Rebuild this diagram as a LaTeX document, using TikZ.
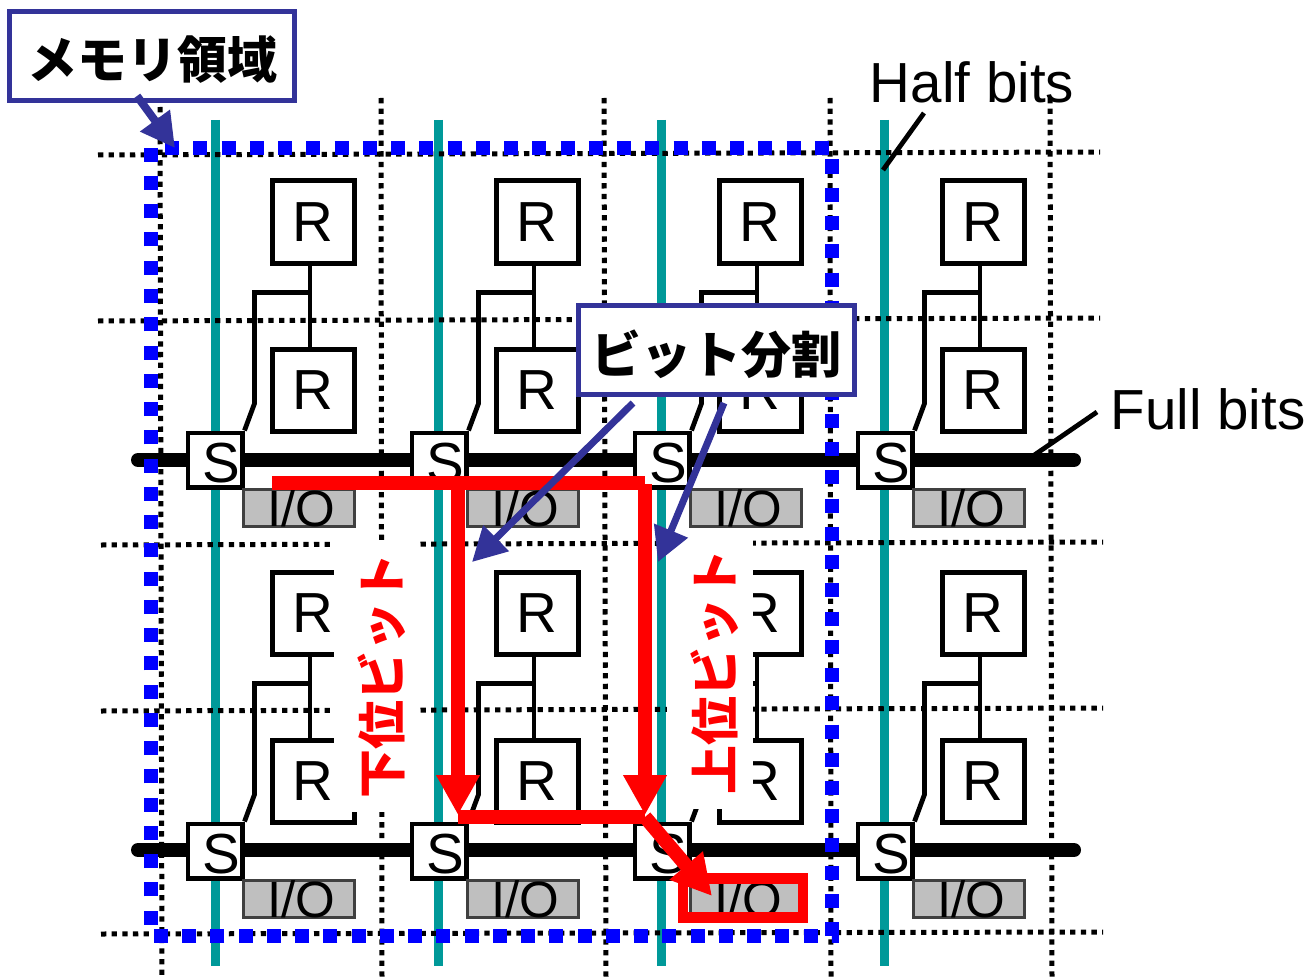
\documentclass[tikz,border=0pt]{standalone}
\usepackage{fontspec}
\setmainfont{Liberation Sans}
\newfontfamily\cjk{Noto Sans CJK JP}
\usetikzlibrary{arrows.meta,positioning}
\definecolor{callblue}{HTML}{333399}
\definecolor{ditch}{HTML}{009999}
\tikzset{
  bigtxt/.style={font=\fontsize{56.5}{56.5}\selectfont, inner sep=0pt},
  rbox/.style={draw, line width=5pt, fill=white, bigtxt, minimum size=82pt},
  swbox/.style={draw, line width=4.5pt, fill=white, bigtxt, minimum size=54.5pt, text height=44pt, text depth=0pt},
  iobox/.style={draw=black!75, line width=3pt, fill=black!25, bigtxt, font=\fontsize{51}{51}\selectfont, minimum width=111pt, minimum height=36pt},
  wire/.style={line width=4.8pt},
  bus/.style={line width=14pt, line cap=round},
  grid/.style={line width=5pt, dash pattern=on 5.3pt off 5.35pt},
  halfbit/.style={ditch, line width=9pt},
  area/.style={blue, line width=14pt, dash pattern=on 14pt off 14.25pt},
  call/.style={draw=callblue, line width=5pt, fill=white, font=\cjk\bfseries\fontsize{50}{50}\selectfont, inner sep=0pt, text height=46pt, text depth=0pt},
  callarr/.style={callblue, -{Triangle[length=34pt,width=35pt]}},
  redarr/.style={red, line width=14pt, -{Triangle[length=40pt,width=41pt]}},
  redline/.style={red, line width=14pt},
  redtxt/.style={red, rotate=90, font=\cjk\bfseries\fontsize{49}{49}\selectfont, inner sep=0pt},
  blank/.style={fill=white, inner sep=0pt},
}
\begin{document}
\begin{tikzpicture}[x=1pt,y=-1pt]
\useasboundingbox (0,0) rectangle (1307,979);
\foreach \x in {215,438,661,884} \draw[halfbit] (\x,120)--(\x,966);
\foreach \a/\b in {155/152,321/318} \draw[grid] (98,\a)--(1100,\b);
\foreach \a/\b in {545/542,711/708,934/932} \draw[grid] (101,\a)--(1103,\b);
\foreach \a/\b/\t in {160/162/107,381/382/98,604/606/98,830/831/98,1050/1052/98} \draw[grid] (\a,\t)--(\b,979);
\foreach \y/\r in {460/1,850/2} \draw[bus] (138,\y)--(1074,\y);
\foreach \c/\x in {1/313,2/537,3/760,4/983} {
  \foreach \r/\y in {1/222,2/613} {
    \node[rbox] (up\c\r) at (\x,\y) {R};
    \node[rbox, below=81pt of up\c\r] (lo\c\r) {R};
    \node[swbox] (sw\c\r) at (\x-98,\y+238) {\hspace*{12pt}S};
    \node[iobox] (io\c\r) at (\x-14.5,\y+286) {\hspace*{6pt}I/O};
    \draw[wire] ([xshift=-3pt]up\c\r.south)--([xshift=-3pt]lo\c\r.north);
    \draw[wire] (sw\c\r.north east)--++(10,-27)--++(0,-111)--++(55,0);
  }
}
\draw[area] (165,148.5)--(832,148.5)--(832,936)--(151,936)--(151,148.5);
\node[blank, minimum width=85pt, minimum height=272pt] (lowgap) at (376,676) {};
\node[blank, minimum width=86pt, minimum height=269pt] (uppgap) at (710,674.5) {};
\node[redtxt] (lowtxt) at (382,676) {下位ビット};
\node[redtxt] (upptxt) at (715,672) {上位ビット};
\node[bigtxt] (halflbl) at (972,82) {Half bits};
\node[bigtxt] (fulllbl) at (1208,409) {Full bits};
\coordinate (halfa) at (924,113);
\coordinate (halfb) at (883,170);
\coordinate (fulla) at (1097,412);
\coordinate (fullb) at (1030,458);
\draw[wire] (halfa)--(halfb);
\draw[wire] (fulla)--(fullb);
\coordinate (lowtop) at (458,483);
\coordinate (upptop) at (645,483);
\coordinate (lowend) at (458,815);
\coordinate (uppend) at (645,815);
\coordinate (merge) at (645,817);
\coordinate (start) at (272,483);
\coordinate (outtip) at (712,896);
\draw[redline] (start)--(upptop);
\draw[redarr] (lowtop)--(lowend);
\draw[redarr] ([yshift=-1pt]upptop)--(uppend);
\draw[redline] (458,817)--(merge);
\node[draw=red, line width=10.5pt, minimum width=120pt, minimum height=39pt, inner sep=0pt] (iohit) at (743,898) {};
\draw[redarr] (merge)--(outtip);
\node[call, minimum width=285pt, minimum height=89pt] (memlbl) at (152.3,55.6) {メモリ領域};
\node[call, minimum width=276pt, minimum height=89pt] (bitlbl) at (716.5,350) {ビット分割};
\coordinate (memfrom) at (137,96);
\coordinate (memtip) at (175,148);
\coordinate (lowfrom) at (633,403);
\coordinate (lowtip) at (472,562);
\coordinate (uppfrom) at (724,403);
\coordinate (upptip) at (658,562);
\draw[callarr, line width=8pt] (memfrom)--(memtip);
\draw[callarr, line width=7pt] (lowfrom)--(lowtip);
\draw[callarr, line width=7pt] (uppfrom)--(upptip);
\end{tikzpicture}
\end{document}
